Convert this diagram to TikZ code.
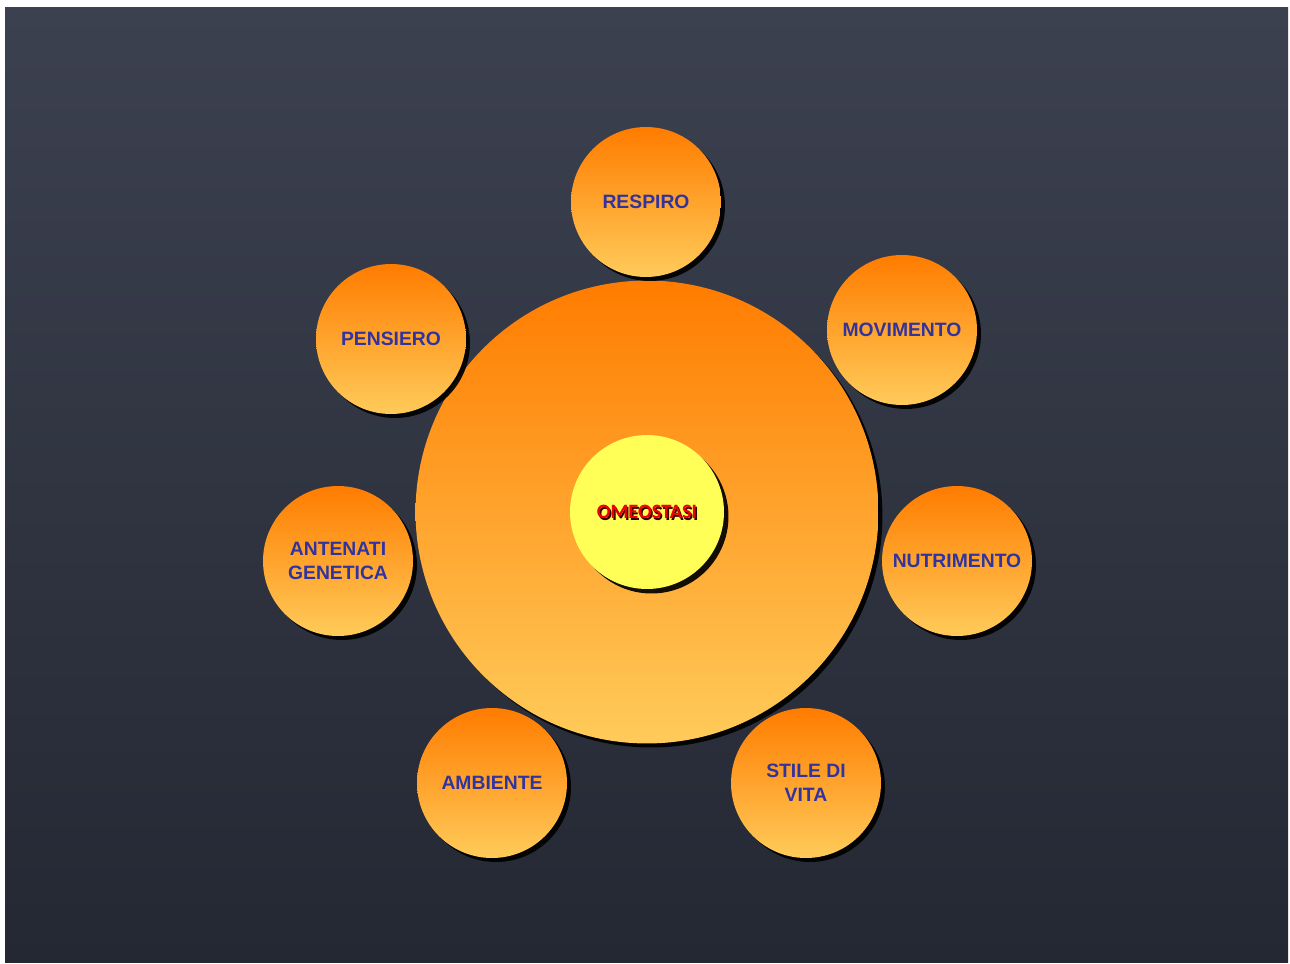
\documentclass[tikz,border=0pt]{standalone}
\usepackage{fontspec}
\setmainfont{Liberation Sans}
\newfontfamily\omeofont{Carlito}
\usepackage{tikz}
\usetikzlibrary{shadows, positioning}
\def\ballsize{3cm}
\definecolor{board-top}{RGB}{60, 65, 80}
\definecolor{board-mid}{RGB}{68, 72, 87}
\definecolor{board-bottom}{RGB}{36, 40, 51}
\definecolor{ball-top}{RGB}{255, 124, 0}
\definecolor{ball-bottom}{RGB}{255, 203, 90}
\definecolor{core}{RGB}{255, 255, 88}
\definecolor{label}{RGB}{50, 52, 158}
\definecolor{omeo}{RGB}{236, 0, 0}
\tikzstyle{ball} = [circle, draw=none, inner sep=0, shading=axis, top color=ball-top, bottom color=ball-bottom,
  drop shadow={shadow xshift=0.08cm, shadow yshift=-0.08cm, fill=black, opacity=0.92}]
\tikzstyle{ballfont} = [text=label, align=center, font=\bfseries\fontsize{11pt}{13.6pt}\selectfont]
\newcommand{\tikzballnode}[1]{\node[ball, ballfont, minimum size=#1]}

\begin{document}
\begin{tikzpicture}[x=0.02cm, y=-0.02cm]
    % board
    \useasboundingbox (0, 0) rectangle (1290, 963);
    \fill[white] (0, 0) rectangle (1290, 963);
    \shade[top color=board-top, middle color=board-mid, bottom color=board-bottom] (5, 8) rectangle (1288, 962);

    % nodes
    \tikzballnode{9.26cm}   at (647, 512)  (sun)        {};
    \tikzballnode{\ballsize} at (646, 202)  (respiro)    {RESPIRO};
    \tikzballnode{\ballsize} at (902, 330)  (movimento)  {MOVIMENTO};
    \tikzballnode{\ballsize} at (957, 561)  (nutrimento) {NUTRIMENTO};
    \tikzballnode{\ballsize} at (806, 783)  (stile)      {STILE DI\\VITA};
    \tikzballnode{\ballsize} at (492, 783)  (ambiente)   {AMBIENTE};
    \tikzballnode{\ballsize} at (338, 561)  (antenati)   {ANTENATI\\GENETICA};
    \tikzballnode{\ballsize} at (391, 339)  (pensiero)   {PENSIERO};

    % core
    \node[circle, draw=none, inner sep=0, fill=core, minimum size=3.08cm,
      drop shadow={shadow xshift=0.09cm, shadow yshift=-0.09cm, fill=black, opacity=0.92}] at (sun) (core) {};
    \node[text=black!80!red, font=\omeofont\bfseries\fontsize{11.6pt}{12pt}\selectfont] at ([xshift=0.03cm, yshift=-0.03cm]core) (omeoshadow) {OMEOSTASI};
    \node[text=omeo, font=\omeofont\bfseries\fontsize{11.6pt}{12pt}\selectfont] at (core) (omeostasi) {OMEOSTASI};
\end{tikzpicture}
\end{document}
